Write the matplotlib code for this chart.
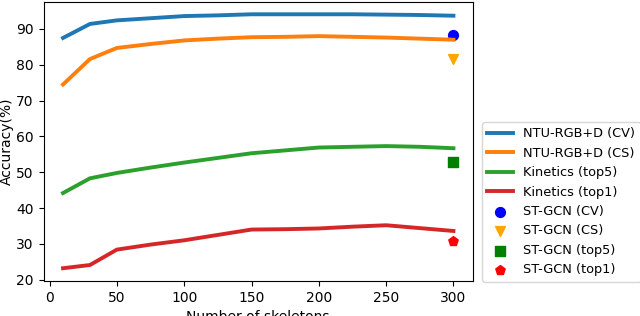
import numpy as np
import matplotlib.pyplot as plt

skeletons = [10, 30, 50, 75, 100, 125, 150, 175, 200, 225, 250, 275, 300]
ntu_cv = [87.5, 91.4, 92.4, 93.0, 93.6, 93.8, 94.1, 94.1, 94.1, 94.1, 94.0, 93.9, 93.7]
ntu_cs = [74.5, 81.6, 84.7, 85.8, 86.8, 87.3, 87.7, 87.8, 88.0, 87.8, 87.6, 87.3, 87.0]
kin_top5 = [44.2, 48.3, 49.8, 51.3, 52.7, 54.0, 55.3, 56.1, 56.9, 57.1, 57.3, 57.1, 56.7]
kin_top1 = [23.2, 24.1, 28.4, 29.8, 31.0, 32.5, 34.0, 34.1, 34.3, 34.8, 35.2, 34.4, 33.6]

stgcn_x = 300
stgcn_cv = 88.3
stgcn_cs = 81.5
stgcn_top5 = 52.8
stgcn_top1 = 30.7

fig = plt.figure(figsize=(6.4, 3.16), dpi=100)
ax = fig.add_axes([0.068, 0.111, 0.671, 0.884])

ax.plot(skeletons, ntu_cv, lw=2.8, label="NTU-RGB+D (CV)")
ax.plot(skeletons, ntu_cs, lw=2.8, label="NTU-RGB+D (CS)")
ax.plot(skeletons, kin_top5, lw=2.8, label="Kinetics (top5)")
ax.plot(skeletons, kin_top1, lw=2.8, label="Kinetics (top1)")

ax.scatter([stgcn_x], [stgcn_cv], s=50, marker="o", color="blue", label="ST-GCN (CV)")
ax.scatter([stgcn_x], [stgcn_cs], s=50, marker="v", color="orange", label="ST-GCN (CS)")
ax.scatter([stgcn_x], [stgcn_top5], s=50, marker="s", color="green", label="ST-GCN (top5)")
ax.scatter([stgcn_x], [stgcn_top1], s=50, marker="p", color="red", label="ST-GCN (top1)")

ax.set_xlabel("Number of skeletons")
ax.set_ylabel("Accuracy(%)", labelpad=2)
ax.set_xticks([0, 50, 100, 150, 200, 250, 300])

fig.legend(loc="upper left", bbox_to_anchor=(482 / 640, 1 - 122 / 316),
           borderaxespad=0, fontsize=9.3)

fig.savefig("out.png", dpi=100)
